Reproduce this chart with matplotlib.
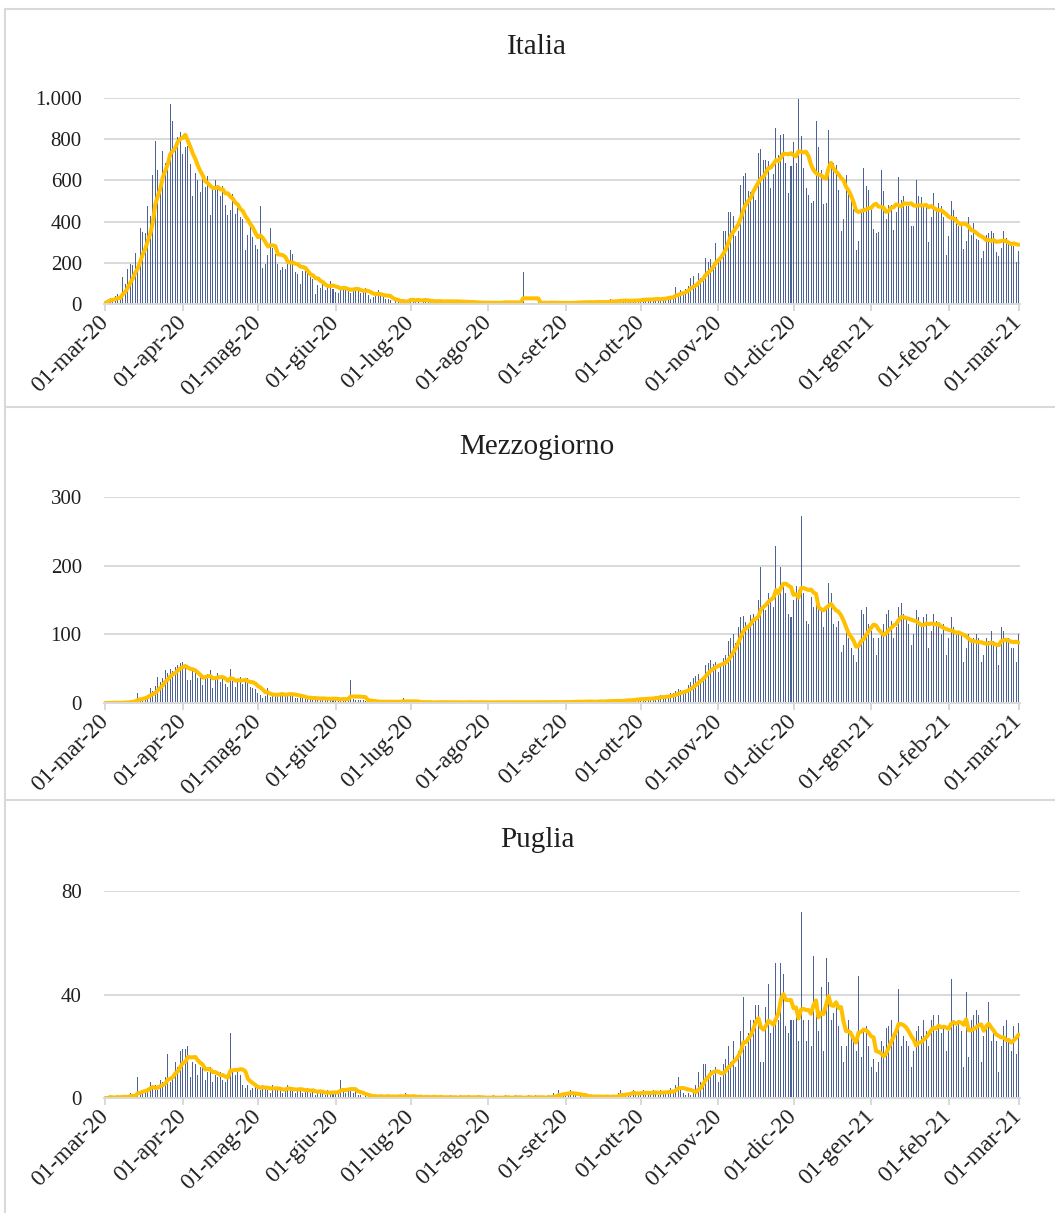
import numpy as np
import pandas as pd
import matplotlib
matplotlib.use('Agg')
import matplotlib.pyplot as plt
from matplotlib.lines import Line2D

plt.rcParams['font.family'] = ['Liberation Serif', 'DejaVu Serif']

# daily values, 01-mar-20 .. 01-mar-21 (one row per month)
italia = (
    [5, 18, 27, 28, 41, 49, 36, 133, 97, 168, 196, 189, 250, 175, 368, 349, 345, 475, 427, 627, 793, 651, 601, 743, 683, 662, 969, 889, 756, 812, 837]
    + [727, 760, 766, 681, 525, 636, 604, 542, 610, 570, 619, 431, 566, 602, 578, 525, 575, 482, 433, 454, 534, 437, 464, 420, 415, 260, 333, 382, 323, 285]
    + [269, 474, 174, 195, 236, 369, 274, 243, 194, 165, 179, 172, 195, 262, 242, 153, 145, 99, 162, 161, 156, 130, 119, 50, 92, 78, 117, 70, 87, 111, 75]
    + [60, 55, 71, 88, 85, 72, 53, 65, 79, 71, 53, 56, 78, 44, 26, 34, 43, 66, 47, 49, 24, 23, 18, -31, 30, 30, 8, 22, 6, 23]
    + [21, 30, 15, 21, 7, 8, 30, 15, 12, 12, 7, 9, 13, 17, 20, 13, 11, 9, 3, 15, 13, 15, 11, 5, 5, 5, 5, 11, 6, 9, 3]
    + [5, 5, 5, 6, 10, 6, 12, 13, 4, 4, 6, 10, 6, 9, 155, 4, 4, 7, 6, 6, 9, 3, 7, 4, 4, 13, 5, 9, 1, 4, 1]
    + [6, 10, 6, 10, 7, 7, 8, 10, 10, 10, 10, 6, 7, 14, 9, 9, 10, 10, 24, 14, 13, 20, 15, 20, 10, 17, 15, 17, 24, 19]
    + [23, 27, 24, 17, 18, 28, 31, 22, 28, 29, 26, 39, 41, 43, 83, 47, 69, 47, 73, 89, 127, 136, 91, 151, 128, 141, 221, 205, 217, 199, 297]
    + [208, 233, 353, 352, 445, 446, 425, 331, 356, 580, 623, 636, 550, 544, 546, 504, 731, 753, 699, 699, 692, 562, 630, 853, 722, 822, 827, 686, 541, 672]
    + [785, 684, 993, 814, 662, 564, 528, 491, 499, 887, 761, 649, 484, 491, 846, 680, 683, 674, 553, 352, 415, 628, 553, 505, 459, 261, 305, 445, 659, 575, 555]
    + [462, 364, 347, 348, 649, 548, 414, 483, 483, 361, 448, 616, 507, 522, 475, 475, 377, 377, 603, 524, 521, 472, 492, 299, 420, 541, 467, 492, 477, 421, 237]
    + [329, 499, 456, 421, 377, 385, 266, 307, 422, 336, 391, 316, 311, 221, 258, 336, 347, 353, 347, 251, 232, 274, 356, 318, 308, 293, 280, 204]
    + [255]
)

mezzogiorno = (
    [0, 0, 0, 1, 0, 1, 0, 1, 2, 1, 3, 4, 5, 14, 8, 6, 10, 12, 22, 18, 25, 38, 30, 36, 48, 44, 50, 46, 52, 55, 58]
    + [60, 56, 34, 33, 47, 44, 36, 38, 26, 40, 42, 48, 22, 38, 44, 30, 40, 28, 24, 50, 32, 24, 34, 38, 28, 30, 36, 24, 22, 20]
    + [14, 12, 8, 10, 22, 9, 11, 13, 10, 14, 12, 14, 13, 15, 10, 8, 7, 9, 8, 6, 7, 8, 7, 4, 6, 8, 7, 5, 6, 7, 5]
    + [6, 5, 4, 7, 6, 5, 33, 6, 5, 4, 5, 4, 3, 2, 2, 1, 2, 1, 2, 3, 2, 1, 2, 1, 3, 1, 2, 7, 1, 2]
    + [2, 1, 2, 1, 0, 1, 2, 1, 1, 0, 2, 1, 1, 2, 1, 0, 1, 1, 2, 1, 1, 0, 1, 2, 1, 1, 0, 1, 2, 1, 1]
    + [1, 0, 1, 1, 2, 1, 1, 0, 1, 1, 1, 2, 1, 0, 1, 1, 2, 1, 1, 0, 1, 2, 1, 1, 0, 2, 1, 2, 1, 1, 2]
    + [1, 2, 1, 2, 3, 2, 1, 2, 3, 2, 2, 1, 2, 3, 3, 2, 4, 3, 2, 3, 4, 3, 2, 4, 6, 5, 3, 6, 7, 5]
    + [7, 6, 8, 5, 6, 9, 10, 9, 11, 10, 7, 9, 14, 15, 18, 20, 19, 14, 17, 26, 30, 36, 40, 42, 33, 40, 56, 58, 62, 57, 60]
    + [45, 52, 66, 70, 90, 95, 100, 88, 110, 125, 126, 118, 112, 128, 130, 120, 150, 198, 140, 135, 160, 150, 140, 228, 165, 198, 175, 160, 130, 125]
    + [150, 170, 165, 272, 160, 120, 115, 155, 140, 150, 140, 135, 110, 140, 175, 160, 115, 110, 120, 75, 85, 110, 95, 80, 70, 60, 80, 135, 130, 140, 115]
    + [105, 95, 70, 95, 100, 115, 130, 135, 120, 95, 110, 140, 145, 130, 125, 115, 85, 100, 135, 125, 110, 125, 130, 80, 105, 130, 120, 115, 100, 115, 70]
    + [95, 125, 110, 100, 105, 100, 60, 80, 100, 90, 95, 100, 95, 60, 70, 95, 90, 105, 90, 85, 55, 110, 105, 95, 95, 80, 80, 60]
    + [100]
)

puglia = (
    [0, 0, 1, 0, 0, 1, 0, 1, 0, 1, 2, 1, 0, 8, 2, 3, 3, 4, 6, 4, 5, 3, 7, 6, 8, 17, 6, 9, 14, 12, 18]
    + [19, 19, 20, 8, 14, 13, 9, 12, 14, 7, 10, 12, 6, 9, 8, 10, 7, 6, 9, 25, 10, 9, 10, 9, 5, 4, 5, 3, 4, 5]
    + [4, 3, 5, 4, 3, 2, 5, 4, 3, 4, 2, 3, 5, 4, 3, 2, 4, 3, 2, 3, 4, 2, 3, 1, 2, 3, 2, 1, 3, 2, 2]
    + [2, 3, 7, 3, 2, 4, 3, 2, 3, 1, 1, 0, 1, 1, 0, 1, 1, 0, 1, 0, 1, 1, 0, 1, 0, 1, 1, 0, 2, 0]
    + [0, 1, 0, 0, 1, 0, 1, 0, 0, 1, 0, 0, 1, 0, 0, 0, 1, 0, 0, 0, 1, 0, 0, 1, 0, 0, 0, 1, 0, 0, 0]
    + [0, 0, 1, 0, 0, 0, 0, 1, 0, 0, 0, 1, 0, 0, 0, 0, 1, 0, 0, 1, 0, 0, 0, 0, 1, 0, 2, 1, 3, 1, 2]
    + [2, 1, 3, 1, 2, 0, 1, 0, 1, 0, 1, 1, 0, 1, 0, 0, 1, 1, 0, 1, 0, 2, 3, 1, 2, 1, 2, 3, 1, 2]
    + [2, 3, 1, 2, 2, 3, 2, 1, 3, 2, 2, 3, 4, 2, 5, 8, 3, 2, 1, 2, 1, 2, 5, 10, 6, 13, 13, 8, 11, 9, 12]
    + [6, 8, 13, 15, 20, 14, 22, 12, 18, 26, 39, 20, 25, 30, 30, 36, 36, 14, 14, 35, 44, 25, 30, 52, 30, 52, 48, 28, 25, 30]
    + [30, 32, 22, 72, 30, 22, 30, 20, 55, 35, 26, 43, 18, 54, 45, 30, 33, 36, 28, 20, 14, 20, 30, 26, 22, 18, 47, 16, 26, 28, 20]
    + [12, 15, 10, 14, 22, 20, 27, 28, 30, 25, 28, 42, 20, 24, 22, 20, 12, 18, 26, 28, 24, 30, 26, 20, 30, 32, 26, 32, 25, 28, 18]
    + [26, 46, 30, 28, 30, 26, 12, 41, 16, 30, 32, 34, 32, 14, 24, 28, 37, 22, 25, 22, 10, 20, 28, 30, 22, 18, 28, 17]
    + [29]
)

titles = ['Italia', 'Mezzogiorno', 'Puglia']
tick_labels = ['01-mar-20', '01-apr-20', '01-mag-20', '01-giu-20', '01-lug-20', '01-ago-20',
               '01-set-20', '01-ott-20', '01-nov-20', '01-dic-20', '01-gen-21', '01-feb-21', '01-mar-21']
yticks_it = [0, 200, 400, 600, 800, 1000]
ylabels_it = ['0', '200', '400', '600', '800', '1.000']
yticks_mz = [0, 100, 200, 300]
yticks_pu = [0, 40, 80]

BAR_COL = '#4D6296'
LINE_COL = '#FFC000'
GRID = '#D9D9D9'
TXT = '#1F1F1F'

days = pd.date_range('2020-03-01', '2021-03-01', freq='D')
month_starts = pd.date_range('2020-03-01', '2021-03-01', freq='MS')
tick_pos = [days.get_loc(d) for d in month_starts]


def draw_panel(ax, vals, ymax, yticks, ylabels, title, title_y):
    x = np.arange(len(vals))
    ax.bar(x, vals, width=0.4, color=BAR_COL, linewidth=0, zorder=2)
    # 7-day trailing moving average of the daily values
    ma = pd.Series(vals).rolling(7, min_periods=1).mean()
    ax.plot(x, ma, color=LINE_COL, lw=2.9, zorder=3, solid_capstyle='round')

    ax.set_xlim(-0.5, len(vals) - 0.5)
    ax.set_ylim(0, ymax)
    ax.set_yticks(yticks)
    ax.set_yticklabels(ylabels)
    ax.yaxis.grid(True, color=GRID, lw=1.4)
    ax.set_axisbelow(True)
    for s in ['top', 'right', 'left']:
        ax.spines[s].set_visible(False)
    ax.spines['bottom'].set_color(GRID)
    ax.spines['bottom'].set_linewidth(1.4)
    ax.spines['bottom'].set_zorder(4)

    ax.set_xticks(tick_pos)
    ax.set_xticklabels(tick_labels, rotation=45, ha='right', va='center',
                       rotation_mode='anchor')
    ax.tick_params(axis='x', length=5, width=1.4, color=GRID, pad=6,
                   labelsize=17, labelcolor=TXT)
    ax.tick_params(axis='y', length=0, pad=16, labelsize=15, labelcolor=TXT)

    fig.text(0.509, title_y, title, ha='center', va='center', fontsize=21, color=TXT)


fig = plt.figure(figsize=(10.55, 12.13), dpi=100)

W, H = 1055, 1213
left = 104 / W
width = (1020 - 104) / W

ax1 = fig.add_axes([left, 1 - 304 / H, width, 206 / H])
ax2 = fig.add_axes([left, 1 - 703 / H, width, 206 / H])
ax3 = fig.add_axes([left, 1 - 1098 / H, width, 207 / H])

draw_panel(ax1, italia, 1000, yticks_it, ylabels_it, titles[0], 1 - 47 / H)
draw_panel(ax2, mezzogiorno, 300, yticks_mz, [str(v) for v in yticks_mz], titles[1], 1 - 447 / H)
draw_panel(ax3, puglia, 80, yticks_pu, [str(v) for v in yticks_pu], titles[2], 1 - 840 / H)

# chart borders
for yy in [9, 407, 800]:
    fig.add_artist(Line2D([5 / W, 1], [1 - yy / H, 1 - yy / H], transform=fig.transFigure,
                          color=GRID, lw=1.5))
fig.add_artist(Line2D([5 / W, 5 / W], [0, 1 - 9 / H], transform=fig.transFigure,
                      color=GRID, lw=1.5))

fig.savefig('out.png', dpi=100)
